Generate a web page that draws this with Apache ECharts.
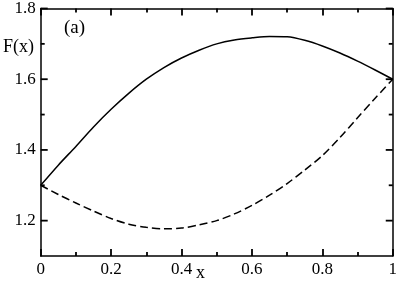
<!DOCTYPE html>
<html><head><meta charset="utf-8">
<script src="https://cdn.jsdelivr.net/npm/echarts@6/dist/echarts.min.js"></script>
<style>html,body{margin:0;padding:0;background:#fff}#c{width:400px;height:283px}</style>
</head><body><div id="c"></div>
<script>
// Data
const solidX = [0, 0.05, 0.1, 0.15, 0.2, 0.25, 0.3, 0.35, 0.4, 0.45, 0.5, 0.55, 0.6, 0.65, 0.7, 0.75, 0.8, 0.85, 0.9, 0.95, 1.0];
const solidY = [1.3, 1.357, 1.41, 1.465, 1.515, 1.56, 1.60, 1.633, 1.66, 1.682, 1.70, 1.711, 1.717, 1.721, 1.72, 1.71, 1.694, 1.674, 1.651, 1.626, 1.6];
const dashedX = [0, 0.05, 0.1, 0.15, 0.2, 0.25, 0.3, 0.35, 0.4, 0.45, 0.5, 0.55, 0.6, 0.65, 0.7, 0.75, 0.8, 0.85, 0.9, 0.95, 1.0];
const dashedY = [1.3, 1.274, 1.25, 1.227, 1.206, 1.19, 1.181, 1.177, 1.179, 1.188, 1.20, 1.219, 1.243, 1.272, 1.305, 1.343, 1.384, 1.435, 1.491, 1.546, 1.6];
const xTickLabels = ['0', '0.2', '0.4', '0.6', '0.8', '1'];
const yTickLabels = ['1.2', '1.4', '1.6', '1.8'];
const xMajorTicks = [0, 0.2, 0.4, 0.6, 0.8, 1];
const xMinorTicks = [0.1, 0.3, 0.5, 0.7, 0.9];
const yMajorTicks = [1.2, 1.4, 1.6, 1.8];
const yMinorTicks = [1.3, 1.5, 1.7];
const panelLabel = '(a)';
const xName = 'x';
const yName = 'F(x)';

const X_MIN = 0, X_MAX = 1, Y_MIN = 1.1, Y_MAX = 1.8;
const FONT = 'Liberation Serif';
const black = '#000';

function xAxisDef(pos, showLabels) {
  return {
    type: 'value', position: pos, min: X_MIN, max: X_MAX, interval: 0.2,
    axisLine: { show: true, onZero: false, lineStyle: { color: black, width: 1.5 } },
    axisTick: { show: true, inside: true, length: 7, lineStyle: { color: black, width: 1.8 } },
    minorTick: { show: true, splitNumber: 2, length: 4, lineStyle: { color: black, width: 1.8 } },
    splitLine: { show: false },
    axisLabel: {
      show: showLabels, margin: 5, color: black, fontFamily: FONT, fontSize: 17,
      formatter: v => { const s = String(+(+v).toFixed(1)); return xTickLabels.includes(s) ? s : ''; }
    }
  };
}
function yAxisDef(pos, showLabels) {
  return {
    type: 'value', position: pos, min: Y_MIN, max: Y_MAX, splitNumber: 3,
    axisLine: { show: true, onZero: false, lineStyle: { color: black, width: 1.5 } },
    axisTick: { show: false },
    splitLine: { show: false },
    axisLabel: {
      show: showLabels, margin: 5, color: black, fontFamily: FONT, fontSize: 17,
      formatter: v => { const s = (+v).toFixed(1); return yTickLabels.includes(s) ? s : ''; }
    }
  };
}

// inward ticks on the left and right sides, positioned through the axes' scales
function tickSeries(vals, len) {
  return {
    type: 'custom', coordinateSystem: 'cartesian2d', xAxisIndex: 0, yAxisIndex: 0,
    silent: true, clip: false, z: 10,
    encode: { x: 0, y: 1 },
    data: vals.map(v => [X_MIN, v]),
    renderItem: (params, api) => {
      const sty = { stroke: black, lineWidth: 1.8, fill: null };
      const v = api.value(1);
      const l = api.coord([X_MIN, v]);
      const r = api.coord([X_MAX, v]);
      return { type: 'group', children: [
        { type: 'line', shape: { x1: l[0], y1: l[1], x2: l[0] + len, y2: l[1] }, style: sty },
        { type: 'line', shape: { x1: r[0], y1: r[1], x2: r[0] - len, y2: r[1] }, style: sty }
      ] };
    }
  };
}

const chart = echarts.init(document.getElementById('c'), null, { renderer: 'canvas' });
chart.setOption({
  animation: false,
  backgroundColor: '#fff',
  grid: { left: 40.7, right: 4.3, top: 5.8, bottom: 27, containLabel: false },
  xAxis: [xAxisDef('bottom', true), xAxisDef('top', false)],
  yAxis: [yAxisDef('left', true), yAxisDef('right', false)],
  series: [
    {
      type: 'line', xAxisIndex: 0, yAxisIndex: 0, smooth: 0.3, showSymbol: false, symbol: 'none',
      data: solidX.map((x, i) => [x, solidY[i]]),
      lineStyle: { color: black, width: 1.5, type: 'solid' }
    },
    {
      type: 'line', xAxisIndex: 0, yAxisIndex: 0, smooth: 0.3, showSymbol: false, symbol: 'none',
      data: dashedX.map((x, i) => [x, dashedY[i]]),
      lineStyle: { color: black, width: 1.5, type: [8, 4] }
    },
    tickSeries(yMajorTicks, 7),
    tickSeries(yMinorTicks, 4)
  ],
  graphic: [
    { type: 'text', left: 3, top: 38, style: { text: yName, font: '18px "Liberation Serif"', fill: black } },
    { type: 'text', left: 196, top: 264, style: { text: xName, font: '18px "Liberation Serif"', fill: black } },
    { type: 'text', left: 64, top: 19, style: { text: panelLabel, font: '19px "Liberation Serif"', fill: black } }
  ]
});
</script></body></html>
